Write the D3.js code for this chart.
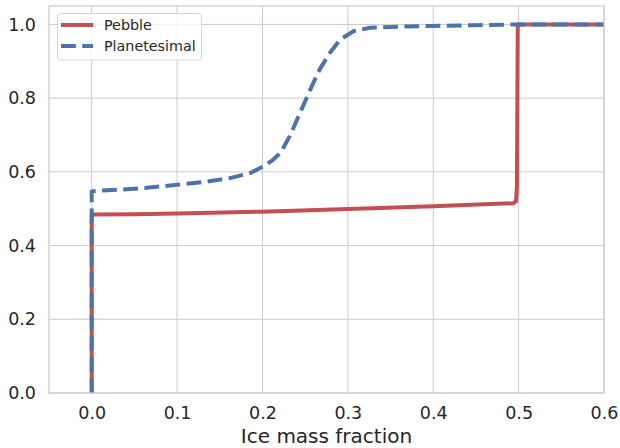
<!DOCTYPE html>
<html>
<head>
<meta charset="utf-8">
<script src="https://cdn.jsdelivr.net/npm/d3@7"></script>
<style>
  body { margin: 0; background: #fff; }
  svg { display: block; font-family: "DejaVu Sans", sans-serif; }
</style>
</head>
<body>
<svg id="chart" width="620" height="448"></svg>
<script>
// ---- data ----
const xTicks = [0.0, 0.1, 0.2, 0.3, 0.4, 0.5, 0.6];
const yTicks = [0.0, 0.2, 0.4, 0.6, 0.8, 1.0];
const seriesNames = ["Pebble", "Planetesimal"];
const pebbleX = [0, 0, 0.05, 0.1, 0.2, 0.3, 0.338, 0.4, 0.494, 0.497, 0.498, 0.499, 0.6];
const pebbleY = [0, 0.484, 0.485, 0.487, 0.492, 0.499, 0.502, 0.507, 0.515, 0.52, 0.56, 1.0, 1.0];
const planX = [0, 0, 0.01, 0.037, 0.07, 0.1, 0.13, 0.162, 0.186, 0.201, 0.212, 0.221, 0.232, 0.244, 0.256, 0.267, 0.279, 0.291, 0.307, 0.326, 0.36, 0.4, 0.45, 0.5, 0.6];
const planY = [0, 0.547, 0.549, 0.552, 0.558, 0.565, 0.572, 0.583, 0.597, 0.615, 0.632, 0.651, 0.697, 0.760, 0.823, 0.878, 0.923, 0.959, 0.982, 0.991, 0.994, 0.996, 0.998, 1.0, 1.0];
const xLabel = "Ice mass fraction";

// ---- layout ----
const W = 620, H = 448;
const m = { left: 49, top: 6, right: 16, bottom: 55 };
const iw = W - m.left - m.right, ih = H - m.top - m.bottom;
const svg = d3.select("#chart");
const g = svg.append("g").attr("transform", `translate(${m.left},${m.top})`);

const x = d3.scaleLinear().domain([-0.05, 0.6]).range([0, iw]);
const y = d3.scaleLinear().domain([0, 1.05]).range([ih, 0]);

const gridColor = "#cccccc", textColor = "#262626";

// grid
g.append("g").selectAll("line").data(xTicks).join("line")
  .attr("x1", d => x(d)).attr("x2", d => x(d)).attr("y1", 0).attr("y2", ih)
  .attr("stroke", gridColor).attr("stroke-width", 1);
g.append("g").selectAll("line").data(yTicks).join("line")
  .attr("y1", d => y(d)).attr("y2", d => y(d)).attr("x1", 0).attr("x2", iw)
  .attr("stroke", gridColor).attr("stroke-width", 1);

// axes (labels only)
const xAxis = g.append("g").attr("transform", `translate(0,${ih})`)
  .call(d3.axisBottom(x).tickValues(xTicks).tickFormat(d3.format(".1f")).tickSize(0).tickPadding(14));
const yAxis = g.append("g")
  .call(d3.axisLeft(y).tickValues(yTicks).tickFormat(d3.format(".1f")).tickSize(0).tickPadding(13));
[xAxis, yAxis].forEach(a => {
  a.select(".domain").remove();
  a.selectAll("text").attr("fill", textColor).style("font-size", "17.5px").style("font-family", "DejaVu Sans");
});

// clip
svg.append("defs").append("clipPath").attr("id", "clip")
  .append("rect").attr("x", 0).attr("y", 0).attr("width", iw).attr("height", ih);

const line = d3.line().x(d => x(d[0])).y(d => y(d[1]));
const pebble = pebbleX.map((v, i) => [v, pebbleY[i]]);
const plan = planX.map((v, i) => [v, planY[i]]);

const lines = g.append("g").attr("clip-path", "url(#clip)");
lines.append("path").datum(pebble).attr("d", line)
  .attr("fill", "none").attr("stroke", "#c44e52").attr("stroke-width", 4)
  .attr("stroke-linejoin", "round");
lines.append("path").datum(plan).attr("d", line)
  .attr("fill", "none").attr("stroke", "#4c72b0").attr("stroke-width", 4)
  .attr("stroke-dasharray", "14.8,6.4").attr("stroke-linejoin", "round");

// spines
g.append("rect").attr("x", 0).attr("y", 0).attr("width", iw).attr("height", ih)
  .attr("fill", "none").attr("stroke", gridColor).attr("stroke-width", 1.25);

// x label
g.append("text").attr("x", iw / 2).attr("y", ih + 50)
  .attr("text-anchor", "middle").attr("fill", textColor)
  .style("font-size", "20px").text(xLabel);

// legend
const leg = svg.append("g");
leg.append("rect").attr("x", 57.5).attr("y", 13.5).attr("width", 144).attr("height", 46.5)
  .attr("rx", 3).attr("fill", "#fff").attr("fill-opacity", 0.8)
  .attr("stroke", "#d6d6d6").attr("stroke-width", 1);
const legColors = ["#c44e52", "#4c72b0"];
const legDash = [null, "14.8,6.4"];
seriesNames.forEach((name, i) => {
  const yy = 25 + i * 21;
  leg.append("line").attr("x1", 61).attr("x2", 93).attr("y1", yy).attr("y2", yy)
    .attr("stroke", legColors[i]).attr("stroke-width", 4)
    .attr("stroke-dasharray", legDash[i]);
  leg.append("text").attr("x", 104).attr("y", yy + 5)
    .attr("fill", textColor).style("font-size", "14.3px").text(name);
});
</script>
</body>
</html>
